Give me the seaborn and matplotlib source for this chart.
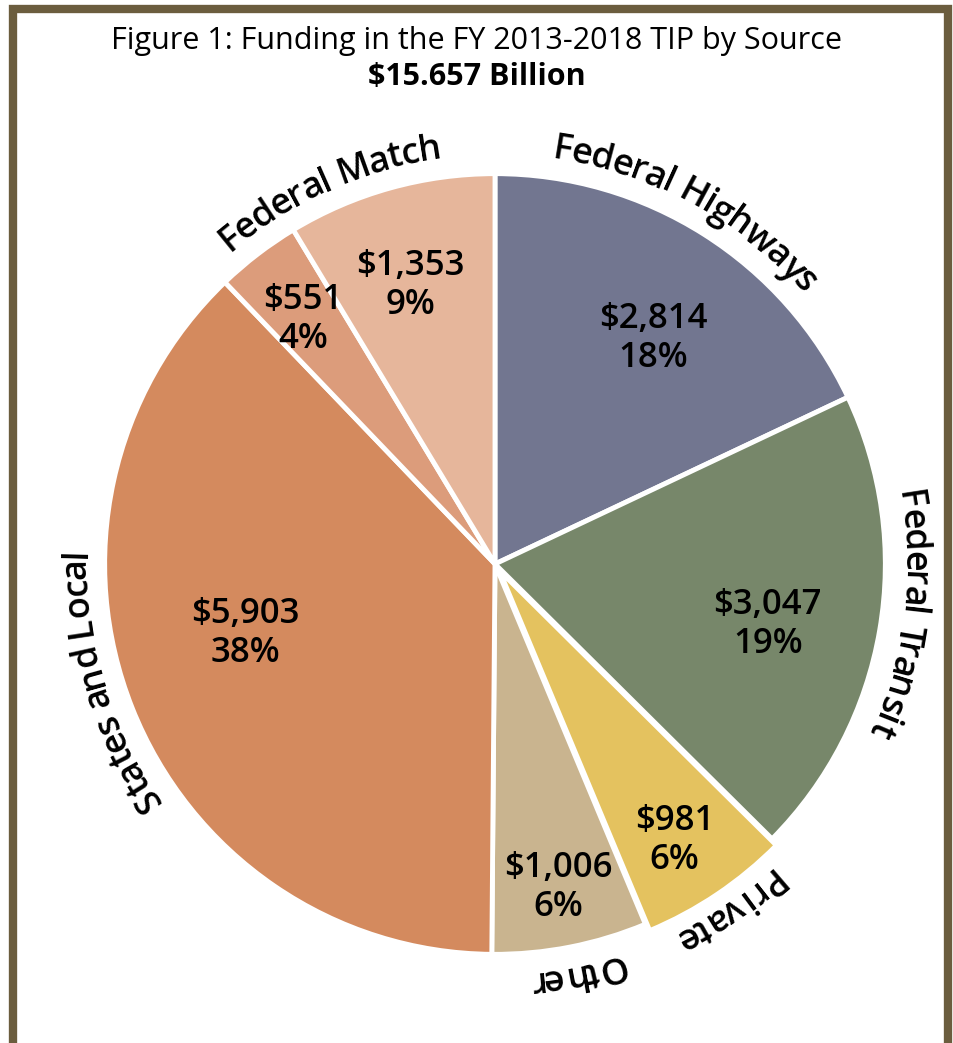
import numpy as np
import matplotlib
matplotlib.use('Agg')
import matplotlib.pyplot as plt
import seaborn as sns
from matplotlib.patches import Rectangle

sns.set_theme(style='white')
plt.rcParams['font.family'] = ['Open Sans', 'DejaVu Sans']
plt.rcParams['text.color'] = 'black'

# data ($ millions)
categories = ['Federal Highways', 'Federal Transit', 'Private', 'Other',
              'States and Local', 'Federal Match', 'Federal Match']
amounts = [2814, 3047, 981, 1006, 5903, 551, 1353]
colors = ['#727690', '#77876a', '#e4c25f', '#c9b48f',
          '#d48a5e', '#dc9c7b', '#e6b69b']
title = 'Figure 1: Funding in the FY 2013-2018 TIP by Source'
subtitle = '$15.657 Billion'

# layout (pixels)
W, H = 954, 1043
R_PX = 388
CX, CY = 495, 564   # pie centre from top-left
# value-label placement: radius (pie units) and angle nudge (deg)
label_r = [0.71, 0.72, 0.85, 0.85, 0.667, 0.80, 0.75]
label_dth = [-2.7, -2.7, -1, 0, -6, 0.7, 1.4]
# outer name-label angle nudge (deg), one per name
name_dth = {'Federal Highways': 4, 'Federal Transit': 2.7, 'Private': 0,
            'Other': 0, 'States and Local': -5, 'Federal Match': 2}
explode = [0, 0, 0.02, 0, 0, 0, 0]

fig = plt.figure(figsize=(W / 100, H / 100), dpi=100)
ax = fig.add_axes([0, 0, 1, 1])

wedges, _ = ax.pie(amounts, colors=colors, startangle=90, counterclock=False,
                   explode=explode, radius=1.006,
                   wedgeprops=dict(edgecolor='white', linewidth=3.5))
ax.set_xlim(-CX / R_PX, (W - CX) / R_PX)
ax.set_ylim(-(H - CY) / R_PX, CY / R_PX)
ax.set_aspect('equal')
ax.axis('off')

total = sum(amounts)
for w, amt, r, dth in zip(wedges, amounts, label_r, label_dth):
    th = np.deg2rad((w.theta1 + w.theta2) / 2 + dth)
    ax.text(r * np.cos(th), r * np.sin(th),
            '${:,}\n{:.0f}%'.format(amt, amt / total * 100),
            ha='center', va='center', fontsize=25, fontweight='semibold',
            linespacing=1.2)

# curved outer labels
renderer = fig.canvas.get_renderer()
px_per_unit = ax.transData.transform((1, 0))[0] - ax.transData.transform((0, 0))[0]
lab_kw = dict(fontsize=26, fontweight='semibold')
TRACK = 0.95


def text_w(s):
    t = ax.text(0, 0, s, **lab_kw)
    wd = t.get_window_extent(renderer).width
    t.remove()
    return wd


def char_edges(s):
    # left edge of every character, measured on prefixes so spacing is kept
    ref = text_w('H')
    edges = [0.0]
    for i in range(1, len(s)):
        edges.append(text_w(s[:i] + 'H') - ref)
    edges.append(text_w(s))
    return np.array(edges) * TRACK / px_per_unit


groups = []
for w, name in zip(wedges, categories):
    if groups and groups[-1][0] == name:
        groups[-1][2] = w.theta1
    else:
        groups.append([name, w.theta2, w.theta1])

RB = 1.055
for name, t_start, t_end in groups:
    mid = np.deg2rad((t_start + t_end) / 2 + name_dth[name])
    edges = char_edges(name)
    start = mid + (edges[-1] / 2) / RB
    for i, c in enumerate(name):
        a = start - ((edges[i] + edges[i + 1]) / 2) / RB
        ax.text(RB * np.cos(a), RB * np.sin(a), c, rotation=np.rad2deg(a) - 90,
                rotation_mode='anchor', ha='center', va='baseline', **lab_kw)

fig.text(0.5, 1 - 41 / H, title, ha='center', va='center', fontsize=22)
fig.text(0.5, 1 - 77 / H, subtitle, ha='center', va='center', fontsize=22,
         fontweight='bold')

# frame
fig.patches.append(Rectangle((13 / W, -0.05), (948 - 13) / W, 1.05 - 9 / H,
                             transform=fig.transFigure, fill=False,
                             edgecolor='#6b5d3e', linewidth=6))

fig.savefig('out.png', dpi=100)
plt.close(fig)
